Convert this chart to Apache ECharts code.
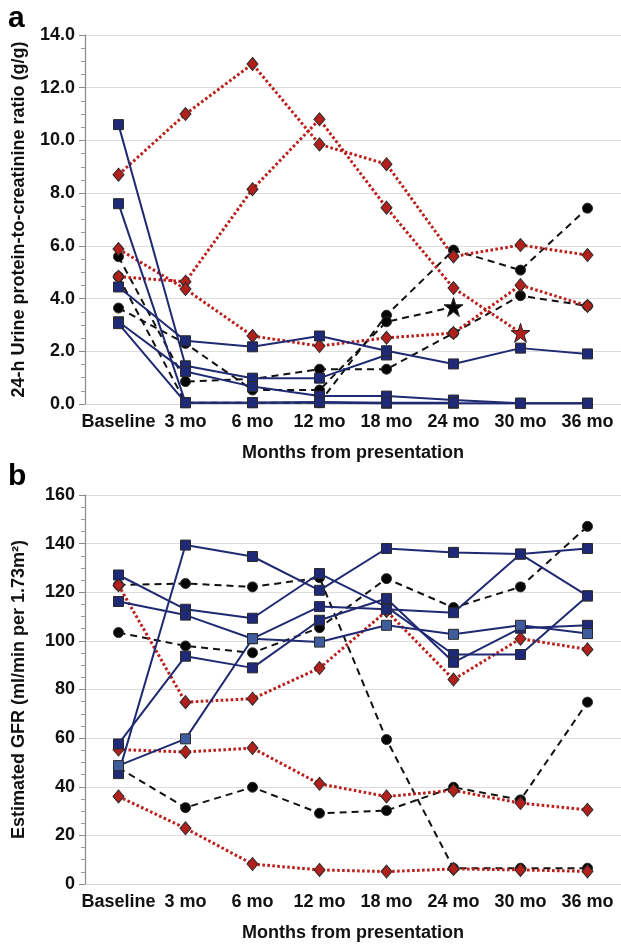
<!DOCTYPE html>
<html><head><meta charset="utf-8">
<script src="https://cdn.jsdelivr.net/npm/echarts@6/dist/echarts.min.js"></script>
<style>html,body{margin:0;padding:0;background:#fff}#c{width:621px;height:945px}</style>
</head><body><div id="c"></div><script>
// ---------- data ----------
var categories = ['Baseline', '3 mo', '6 mo', '12 mo', '18 mo', '24 mo', '30 mo', '36 mo'];

// panel a: 24-h urine protein-to-creatinine ratio (g/g)
var aYTicks = [0, 2, 4, 6, 8, 10, 12, 14];
var aBlue1 = [10.6, 1.45, 0.98, 0.98, 1.86, null, null, null];
var aBlue2 = [7.6, 0.05, 0.05, 0.05, 0.03, 0.03, 0.03, 0.03];
var aBlue3 = [4.44, 2.4, 2.17, 2.58, 2.02, 1.52, 2.12, 1.9];
var aBlue4 = [3.12, 1.23, 0.66, 0.3, 0.3, 0.15, 0.03, 0.03];
var aBlue5 = [3.05, 0.05, 0.05, 0.08, 0.05, 0.05, null, null];
var aRed1 = [8.7, 11.0, 12.9, 9.85, 9.1, 5.6, 6.03, 5.65];
var aRed2 = [4.83, 4.64, 8.15, 10.8, 7.45, 4.4, 2.7, null];   // last point drawn as a star
var aRed3 = [5.88, 4.36, 2.58, 2.2, 2.51, 2.69, 4.51, 3.72];
var aBlack1 = [5.59, 0.85, 0.95, 1.32, 1.32, 2.69, 4.11, 3.72];
var aBlack2 = [4.83, 0.05, 0.05, 0.05, 3.37, 5.84, 5.08, 7.43];
var aBlack3 = [3.64, 2.3, 0.53, 0.53, 3.12, 3.68, null, null]; // last point drawn as a star

// panel b: estimated GFR (ml/min per 1.73 m2)
var bYTicks = [0, 20, 40, 60, 80, 100, 120, 140, 160];
var bBlue1 = [45.4, 139.4, 134.7, 120.8, 138, 136.4, 135.7, 138];
var bBlue2 = [127.1, 113, 109.3, 127.7, 114, 94.4, 94.4, 118.5];
var bBlue3 = [116.2, 110.6, 100.9, 114.1, 113, 111.6, 135.7, 118.5];
var bBlue4 = [57.6, 93.7, 88.9, 108.5, 117.4, 91.2, 105.2, 106.4];
var bBlue5 = [48.7, 59.7, 100.9, 99.5, 106.4, 102.7, 106.4, 103];
var bRed1 = [122.9, 74.8, 76.2, 88.8, 112.3, 84.1, 100.9, 96.5];
var bRed2 = [55.3, 54.3, 55.9, 41.2, 36, 38.5, 33.3, 30.5];
var bRed3 = [36, 22.9, 8.2, 5.8, 5.1, 6.2, 5.8, 5.2];
var bBlack1 = [123, 123.6, 122.2, 126, 59.4, 6.5, 6.5, 6.5];
var bBlack2 = [103.4, 97.9, 95.1, 105.4, 125.6, 113.7, 122.2, 147.1];
var bBlack3 = [47.8, 31.4, 39.8, 29.1, 30.2, 39.8, 34.6, 74.8];

// ---------- styling ----------
var FONT = '"Liberation Sans", Arial, Helvetica, sans-serif';
var STAR = 'path://M50,0 L61.2,34.5 L97.6,34.5 L68.2,55.9 L79.4,90.5 L50,69.1 L20.6,90.5 L31.8,55.9 L2.4,34.5 L38.8,34.5 Z';
var styles = {
  blue:  {symbol: 'rect', size: 10, fill: '#1e2a78', line: '#1f2a72', width: 2, dash: 'solid'},
  light: {symbol: 'rect', size: 10, fill: '#3f5d9c', line: '#1f2a72', width: 2, dash: 'solid'},
  red:   {symbol: 'diamond', size: [11, 13], fill: '#b2201c', line: '#bb1f1b', width: 3, dash: [2.6, 2.4]},
  black: {symbol: 'circle', size: 10, fill: '#050505', line: '#111', width: 2, dash: [7, 5]}
};

function mk(data, kind, gi, starLast) {
  var s = styles[kind];
  var d = data.map(function (v) { return v == null ? '-' : v; });
  if (starLast) {
    for (var i = d.length - 1; i >= 0; i--) {
      if (d[i] !== '-') {
        d[i] = {value: d[i], symbol: STAR, symbolSize: 19, itemStyle: {color: s.fill, borderColor: '#222', borderWidth: 1}};
        break;
      }
    }
  }
  return {
    type: 'line', xAxisIndex: gi, yAxisIndex: gi, data: d,
    symbol: s.symbol, symbolSize: s.size, showAllSymbol: true,
    connectNulls: false, animation: false, silent: true,
    itemStyle: {color: s.fill, borderColor: '#2a2a2a', borderWidth: 1},
    lineStyle: {color: s.line, width: s.width, type: s.dash, cap: 'butt'}
  };
}

var axisLabelStyle = {fontFamily: FONT, fontWeight: 'bold', fontSize: 18, color: '#111'};

function xAx(gi) {
  return {
    type: 'category', gridIndex: gi, data: categories, boundaryGap: true,
    axisLine: {show: true, lineStyle: {color: '#d4d4d4', width: 1}},
    axisTick: {show: false},
    axisLabel: Object.assign({margin: 9, interval: 0}, axisLabelStyle),
    name: 'Months from presentation', nameLocation: 'middle', nameGap: 40,
    nameTextStyle: {fontFamily: FONT, fontWeight: 'bold', fontSize: 18, color: '#111'}
  };
}
function yAx(gi, ticks, name, fmt) {
  return {
    type: 'value', gridIndex: gi, min: ticks[0], max: ticks[ticks.length - 1],
    interval: ticks[1] - ticks[0],
    axisLine: {show: true, lineStyle: {color: '#8a8a8a', width: 1.2}},
    axisTick: {show: true, length: 6, lineStyle: {color: '#8a8a8a'}},
    minorTick: {show: true, splitNumber: 4, length: 4, lineStyle: {color: '#9a9a9a'}},
    splitLine: {show: true, lineStyle: {color: '#dcdcdc', width: 1}},
    axisLabel: Object.assign({margin: 10, formatter: fmt}, axisLabelStyle),
    name: name, nameLocation: 'middle', nameGap: 57, nameRotate: 90,
    nameTextStyle: {fontFamily: FONT, fontWeight: 'bold', fontSize: 18, color: '#111'}
  };
}

var chart = echarts.init(document.getElementById('c'), null, {renderer: 'canvas', width: 621, height: 945});
chart.setOption({
  backgroundColor: '#fff',
  animation: false,
  grid: [
    {left: 85, right: -5, top: 35, height: 369},
    {left: 85, right: -5, top: 495, height: 389}
  ],
  xAxis: [xAx(0), xAx(1)],
  yAxis: [
    yAx(0, aYTicks, '24-h Urine protein-to-creatinine ratio (g/g)', function (v) { return v.toFixed(1); }),
    yAx(1, bYTicks, 'Estimated GFR (ml/min per 1.73m\u00B2)', function (v) { return String(v); })
  ],
  graphic: [
    {type: 'text', left: 8, top: 4, style: {text: 'a', font: 'bold 30px ' + FONT, fill: '#000'}},
    {type: 'text', left: 8, top: 462, style: {text: 'b', font: 'bold 30px ' + FONT, fill: '#000'}}
  ],
  series: [
    mk(aBlack1, 'black', 0), mk(aBlack2, 'black', 0), mk(aBlack3, 'black', 0, true),
    mk(aRed1, 'red', 0), mk(aRed2, 'red', 0, true), mk(aRed3, 'red', 0),
    mk(aBlue1, 'blue', 0), mk(aBlue2, 'blue', 0), mk(aBlue3, 'blue', 0), mk(aBlue4, 'blue', 0), mk(aBlue5, 'blue', 0),
    mk(bBlack1, 'black', 1), mk(bBlack2, 'black', 1), mk(bBlack3, 'black', 1),
    mk(bRed1, 'red', 1), mk(bRed2, 'red', 1), mk(bRed3, 'red', 1),
    mk(bBlue1, 'blue', 1), mk(bBlue2, 'blue', 1), mk(bBlue3, 'blue', 1), mk(bBlue4, 'blue', 1), mk(bBlue5, 'light', 1)
  ]
});
</script></body></html>
